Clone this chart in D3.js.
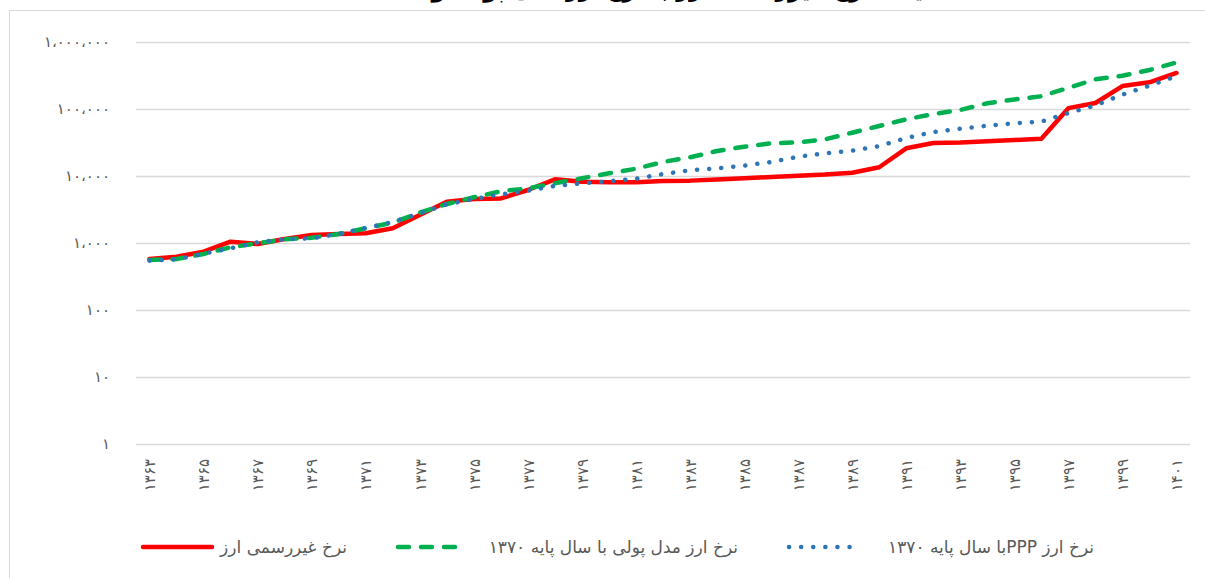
<!DOCTYPE html>
<html>
<head>
<meta charset="utf-8">
<script src="https://cdn.jsdelivr.net/npm/d3@7"></script>
<style>
  body { margin: 0; background: #fff; }
  svg { display: block; }
</style>
</head>
<body>
<script>
// years (solar hijri) on the x axis
var years = [1363, 1364, 1365, 1366, 1367, 1368, 1369, 1370, 1371, 1372,
             1373, 1374, 1375, 1376, 1377, 1378, 1379, 1380, 1381, 1382,
             1383, 1384, 1385, 1386, 1387, 1388, 1389, 1390, 1391, 1392,
             1393, 1394, 1395, 1396, 1397, 1398, 1399, 1400, 1401];

// informal market rate
var informalRate = [577, 625, 742, 1045, 966, 1148, 1316, 1362, 1395, 1657,
                    2620, 4130, 4540, 4620, 6180, 8930, 8220, 8060, 8100, 8420,
                    8530, 8890, 9270, 9660, 10070, 10490, 11200, 13500, 25900, 31000,
                    31500, 33000, 34500, 36000, 103000, 123000, 220000, 250000, 345000];

// monetary model rate, base year 1370
var monetaryRate = [557, 577, 685, 863, 990, 1135, 1200, 1362, 1657, 2010,
                    2834, 3820, 4810, 5910, 6550, 7780, 9240, 10970, 12850, 16200,
                    19000, 23600, 27400, 30700, 31800, 35300, 44300, 55700, 70200, 84100,
                    96600, 122000, 139000, 155000, 207000, 278000, 313000, 382000, 494000];

// PPP rate, base year 1370
var pppRate = [544, 571, 692, 834, 1024, 1135, 1175, 1362, 1675, 2057,
               2775, 3780, 4540, 5330, 6040, 7100, 7780, 8340, 9120, 10700,
               12200, 13000, 14300, 16200, 19400, 21800, 23900, 28000, 36900, 45400,
               50800, 56300, 61200, 64900, 87100, 113000, 164000, 223000, 309000];

var xTickYears = [1363, 1365, 1367, 1369, 1371, 1373, 1375, 1377, 1379, 1381,
                  1383, 1385, 1387, 1389, 1391, 1393, 1395, 1397, 1399, 1401];
var xTickLabels = ["۱۳۶۳", "۱۳۶۵", "۱۳۶۷", "۱۳۶۹", "۱۳۷۱", "۱۳۷۳", "۱۳۷۵", "۱۳۷۷", "۱۳۷۹", "۱۳۸۱",
                   "۱۳۸۳", "۱۳۸۵", "۱۳۸۷", "۱۳۸۹", "۱۳۹۱", "۱۳۹۳", "۱۳۹۵", "۱۳۹۷", "۱۳۹۹", "۱۴۰۱"];

var yTickValues = [1, 10, 100, 1000, 10000, 100000, 1000000];
var yTickLabels = ["۱", "۱۰", "۱۰۰", "۱،۰۰۰", "۱۰،۰۰۰", "۱۰۰،۰۰۰", "۱،۰۰۰،۰۰۰"];

var seriesNames = ["نرخ غیررسمی ارز", "نرخ ارز مدل پولی با سال پایه ۱۳۷۰", "نرخ ارز  PPPبا سال پایه ۱۳۷۰"];

var W = 1205, H = 578;
var margin = { top: 42, right: 15, bottom: 134, left: 136 };
var fontFam = "'DejaVu Sans', 'Noto Sans', sans-serif";
var textCol = "#595959";

var svg = d3.select("body").append("svg")
    .attr("width", W)
    .attr("height", H);

// chart frame
svg.append("rect")
    .attr("x", 9.5).attr("y", 10.5)
    .attr("width", 1210).attr("height", 600)
    .attr("fill", "none")
    .attr("stroke", "#d9d9d9")
    .attr("stroke-width", 1);

// title (only its lower edge shows at the top of the picture)
svg.append("text")
    .attr("x", 668).attr("y", -3)
    .attr("text-anchor", "middle")
    .attr("direction", "rtl")
    .style("font-family", fontFam)
    .style("font-size", "22px")
    .style("font-weight", "bold")
    .style("fill", "#000")
    .text("مقایسه نرخ غیررسمی ارز با نرخ ارز مدل پولی و PPP");

var x = d3.scalePoint()
    .domain(years)
    .range([margin.left, W - margin.right])
    .padding(0.5);

var y = d3.scaleLog()
    .domain([1, 1000000])
    .range([H - margin.bottom, margin.top]);

// gridlines + y labels
svg.append("g")
    .attr("transform", "translate(" + margin.left + ",0)")
    .call(d3.axisLeft(y)
        .tickValues(yTickValues)
        .tickSize(-(W - margin.left - margin.right))
        .tickFormat(function(d, i) { return yTickLabels[i]; }))
    .call(function(g) {
        g.select(".domain").remove();
        g.selectAll(".tick line").attr("stroke", "#d9d9d9").attr("stroke-width", 1.3);
        g.selectAll(".tick text")
            .attr("x", -26)
            .style("font-family", fontFam)
            .style("font-size", "15px")
            .style("letter-spacing", "2px")
            .style("fill", textCol);
    });

// x labels
svg.append("g")
    .attr("transform", "translate(0," + (H - margin.bottom) + ")")
    .call(d3.axisBottom(x)
        .tickValues(xTickYears)
        .tickSize(0)
        .tickFormat(function(d, i) { return xTickLabels[i]; }))
    .call(function(g) {
        g.select(".domain").remove();
        g.selectAll(".tick text")
            .attr("transform", "rotate(-90)")
            .attr("text-anchor", "end")
            .attr("x", -15)
            .attr("y", 0)
            .attr("dy", "0.35em")
            .style("font-family", fontFam)
            .style("font-size", "15px")
            .style("letter-spacing", "1.5px")
            .style("fill", textCol);
    });

var line = d3.line()
    .x(function(d, i) { return x(years[i]); })
    .y(function(d) { return y(d); });

var seriesStyle = [
    { data: informalRate, color: "#ff0000", dash: null, cap: "round" },
    { data: monetaryRate, color: "#00b050", dash: "11,12", cap: "round" },
    { data: pppRate, color: "#2e75b6", dash: "0.1,12", cap: "round" }
];

seriesStyle.forEach(function(s) {
    svg.append("path")
        .datum(s.data)
        .attr("fill", "none")
        .attr("stroke", s.color)
        .attr("stroke-width", 4.5)
        .attr("stroke-linejoin", "round")
        .attr("stroke-linecap", s.cap)
        .attr("stroke-dasharray", s.dash)
        .attr("d", line);
});

// legend
var legendY = 547;
var legendItems = [
    { x1: 143, x2: 212, tx: 347, idx: 0 },
    { x1: 398, x2: 460, tx: 738, idx: 1 },
    { x1: 789, x2: 850, tx: 1094, idx: 2 }
];

legendItems.forEach(function(it) {
    var s = seriesStyle[it.idx];
    svg.append("line")
        .attr("x1", it.x1).attr("x2", it.x2)
        .attr("y1", legendY).attr("y2", legendY)
        .attr("stroke", s.color)
        .attr("stroke-width", 4.5)
        .attr("stroke-linecap", s.cap)
        .attr("stroke-dasharray", s.dash);
    svg.append("text")
        .attr("x", it.tx)
        .attr("y", legendY)
        .attr("dy", "0.35em")
        .attr("direction", "rtl")
        .attr("text-anchor", "start")
        .style("font-family", fontFam)
        .style("font-size", "17px")
        .style("fill", textCol)
        .text(seriesNames[it.idx]);
});
</script>
</body>
</html>
